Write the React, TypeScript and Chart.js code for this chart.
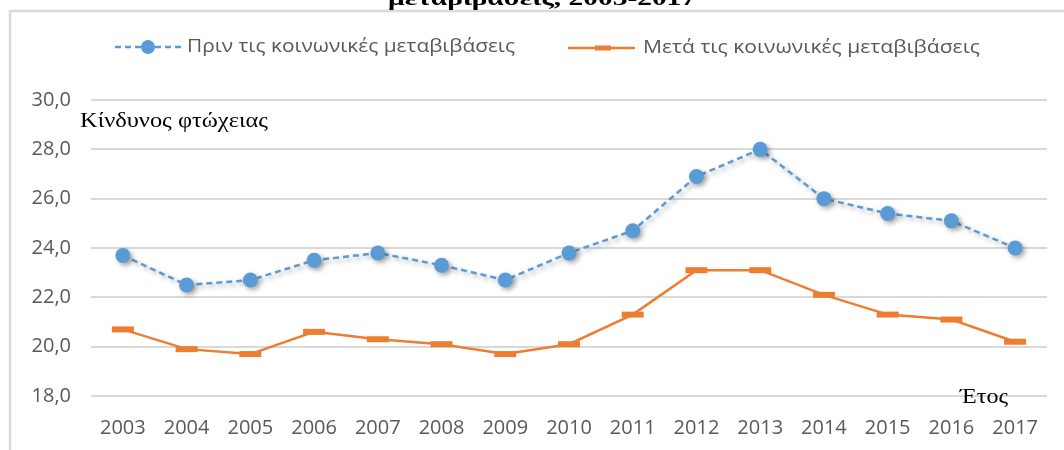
import React, { useEffect, useRef } from "react";
import { Chart, registerables } from "chart.js";

Chart.register(...registerables);

const years = ["2003", "2004", "2005", "2006", "2007", "2008", "2009", "2010", "2011", "2012", "2013", "2014", "2015", "2016", "2017"];
const beforeTransfers = [23.7, 22.5, 22.7, 23.5, 23.8, 23.3, 22.7, 23.8, 24.7, 26.9, 28.0, 26.0, 25.4, 25.1, 24.0];
const afterTransfers = [20.7, 19.9, 19.7, 20.6, 20.3, 20.1, 19.7, 20.1, 21.3, 23.1, 23.1, 22.1, 21.3, 21.1, 20.2];
const seriesLabels = ["Πριν τις κοινωνικές μεταβιβάσεις", "Μετά τις κοινωνικές μεταβιβάσεις"];
const yTicks = [18, 20, 22, 24, 26, 28, 30];
const titleText = "μεταβιβάσεις, 2003-2017";
const yAxisLabel = "Κίνδυνος φτώχειας";
const xAxisLabel = "Έτος";

const BLUE = "#5b9bd5";
const ORANGE = "#ed7d31";
const GRAY_TEXT = "#595959";
const GRID = "#d9d9d9";

function fitText(ctx: CanvasRenderingContext2D, text: string, x: number, y: number, width: number) {
  const w = ctx.measureText(text).width || 1;
  ctx.save();
  ctx.textAlign = "left";
  ctx.translate(x, y);
  ctx.scale(width / w, 1);
  ctx.fillText(text, 0, 0);
  ctx.restore();
}

const decorPlugin = {
  id: "decor",
  beforeDraw(chart: any) {
    const ctx = chart.ctx;
    ctx.save();
    ctx.fillStyle = "#ffffff";
    ctx.fillRect(0, 0, chart.width, chart.height);
    ctx.strokeStyle = GRID;
    ctx.lineWidth = 2.5;
    ctx.beginPath();
    ctx.moveTo(10, chart.height);
    ctx.lineTo(10, 11);
    ctx.lineTo(chart.width, 11);
    ctx.stroke();
    ctx.restore();
  },
  beforeDatasetDraw(chart: any, args: any) {
    const ctx = chart.ctx;
    ctx.save();
    if (args.index === 0) {
      ctx.shadowColor = "rgba(0,0,0,0.35)";
      ctx.shadowBlur = 5;
      ctx.shadowOffsetX = 2.5;
      ctx.shadowOffsetY = 2.5;
    }
  },
  afterDatasetDraw(chart: any) {
    chart.ctx.restore();
  },
  afterDraw(chart: any) {
    const ctx = chart.ctx;
    ctx.save();
    // cropped title
    ctx.fillStyle = "#000000";
    ctx.font = "bold 22px 'Liberation Serif', serif";
    ctx.textBaseline = "alphabetic";
    fitText(ctx, titleText, 388, 5, 308);

    // legend
    const ly = 47;
    ctx.lineWidth = 2.5;
    ctx.strokeStyle = BLUE;
    ctx.setLineDash([6, 4]);
    ctx.beginPath();
    ctx.moveTo(115, ly);
    ctx.lineTo(182, ly);
    ctx.stroke();
    ctx.setLineDash([]);
    ctx.fillStyle = BLUE;
    ctx.beginPath();
    ctx.arc(148, ly, 7, 0, Math.PI * 2);
    ctx.fill();

    ctx.strokeStyle = ORANGE;
    ctx.beginPath();
    ctx.moveTo(568, ly + 1);
    ctx.lineTo(635, ly + 1);
    ctx.stroke();
    ctx.fillStyle = ORANGE;
    ctx.fillRect(595, ly - 1.5, 16, 5);

    ctx.fillStyle = GRAY_TEXT;
    ctx.font = "18px 'Open Sans', sans-serif";
    ctx.textBaseline = "middle";
    fitText(ctx, seriesLabels[0], 187, ly, 328);
    fitText(ctx, seriesLabels[1], 643, ly + 1, 337);

    // axis titles
    ctx.fillStyle = "#000000";
    ctx.font = "20px 'Liberation Serif', serif";
    fitText(ctx, yAxisLabel, 80, 122, 188);
    fitText(ctx, xAxisLabel, 960, 398, 48);
    ctx.restore();
  },
};

export default function App() {
  const canvasRef = useRef<HTMLCanvasElement | null>(null);

  useEffect(() => {
    document.body.style.margin = "0";
    const canvas = canvasRef.current;
    if (!canvas) return;
    const chart = new Chart(canvas, {
      type: "line",
      data: {
        labels: years,
        datasets: [
          {
            label: seriesLabels[0],
            data: beforeTransfers,
            borderColor: BLUE,
            backgroundColor: BLUE,
            borderWidth: 2.5,
            borderDash: [6, 4],
            pointStyle: "circle",
            pointRadius: 7.5,
            pointBorderWidth: 0,
            pointBackgroundColor: BLUE,
            tension: 0,
            clip: false as any,
          },
          {
            label: seriesLabels[1],
            data: afterTransfers,
            borderColor: ORANGE,
            backgroundColor: ORANGE,
            borderWidth: 2.5,
            pointStyle: "line",
            pointRadius: 11,
            pointBorderWidth: 6,
            pointBorderColor: ORANGE,
            tension: 0,
            clip: false as any,
          },
        ],
      },
      options: {
        animation: false,
        responsive: false,
        devicePixelRatio: 1,
        layout: { padding: { top: 100, right: 17, bottom: 0, left: 0 } },
        plugins: {
          legend: { display: false },
          title: { display: false },
          tooltip: { enabled: false },
        },
        scales: {
          x: {
            offset: true,
            grid: { display: false, drawTicks: false },
            border: { display: false },
            ticks: {
              color: GRAY_TEXT,
              font: { family: "'Open Sans', sans-serif", size: 20 },
              padding: 20,
              maxRotation: 0,
              autoSkip: false,
            },
            afterFit: (s: any) => {
              s.height = 54;
            },
          },
          y: {
            min: 18,
            max: 30,
            afterBuildTicks: (s: any) => {
              s.ticks = yTicks.map((v) => ({ value: v }));
            },
            grid: { color: GRID, lineWidth: 2, drawTicks: false },
            border: { display: false },
            ticks: {
              color: GRAY_TEXT,
              font: { family: "'Open Sans', sans-serif", size: 20 },
              padding: 20,
              callback: (v: any) => Number(v).toFixed(1).replace(".", ","),
            },
            afterFit: (s: any) => {
              s.width = 91;
            },
          },
        },
      },
      plugins: [decorPlugin],
    });
    return () => chart.destroy();
  }, []);

  return (
    <div style={{ width: 1064, height: 450, position: "relative" }}>
      <canvas ref={canvasRef} width={1064} height={450} style={{ display: "block" }} />
    </div>
  );
}
